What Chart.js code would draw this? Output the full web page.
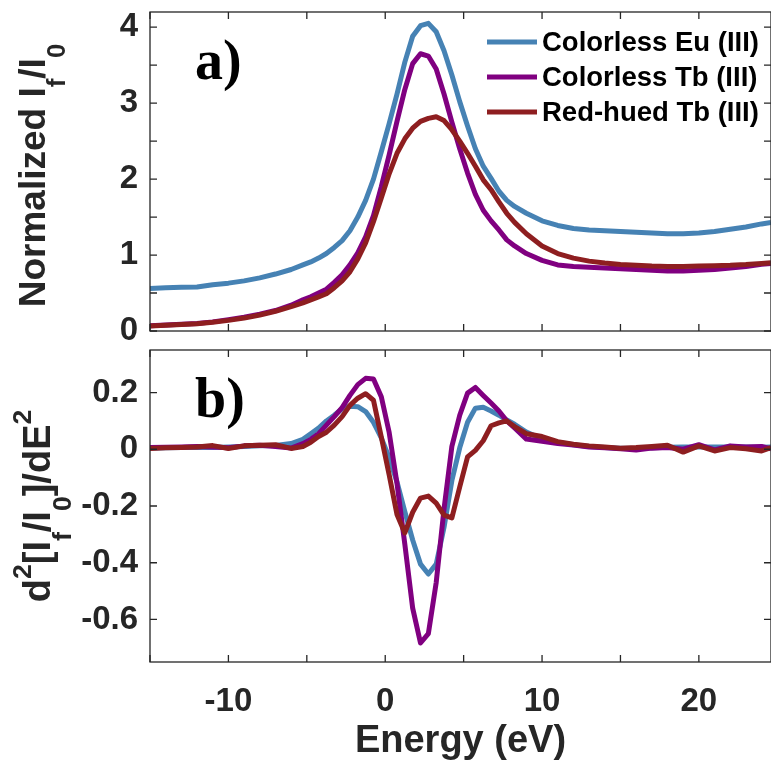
<!DOCTYPE html>
<html>
<head>
<meta charset="utf-8">
<script src="https://cdn.jsdelivr.net/npm/chart.js@4.4.0/dist/chart.umd.min.js"></script>
<style>
  html, body { margin: 0; padding: 0; background: #fff; }
  canvas { display: block; }
</style>
</head>
<body>
<canvas id="topChart" width="771" height="340"></canvas>
<canvas id="bottomChart" width="771" height="421"></canvas>
<script>
// energy grid (eV), shared by every series
const energy = [-15, -14, -13, -12, -11, -10, -9, -8, -7, -6,
  -5.25, -4.75, -4.25, -3.75, -3.25, -2.75, -2.25, -1.75, -1.25, -0.75, -0.25,
  0.25, 0.75, 1.25, 1.75, 2.25, 2.75, 3.25, 3.75, 4.25, 4.75, 5.25, 5.75,
  6.25, 6.75, 7.25, 7.75, 8.25, 9, 10, 11, 12, 13, 14, 15, 16, 17, 18, 19,
  20, 21, 22, 23, 24, 24.6];

const seriesNames = ['Colorless Eu (III)', 'Colorless Tb (III)', 'Red-hued Tb (III)'];

// panel a) normalized If/I0
const euTop = [0.56, 0.57, 0.575, 0.58, 0.61, 0.63, 0.66, 0.70, 0.75, 0.81,
  0.87, 0.91, 0.96, 1.02, 1.10, 1.19, 1.32, 1.50, 1.72, 2.00, 2.36,
  2.73, 3.12, 3.54, 3.88, 4.02, 4.05, 3.94, 3.69, 3.37, 3.02, 2.70, 2.40,
  2.17, 2.01, 1.84, 1.72, 1.64, 1.55, 1.45, 1.39, 1.35, 1.33, 1.32, 1.31, 1.30, 1.29, 1.28, 1.28,
  1.29, 1.31, 1.34, 1.37, 1.41, 1.43];
const tbTop = [0.07, 0.08, 0.09, 0.10, 0.12, 0.15, 0.18, 0.22, 0.27, 0.34,
  0.41, 0.45, 0.50, 0.55, 0.64, 0.74, 0.87, 1.03, 1.24, 1.52, 1.90,
  2.32, 2.76, 3.18, 3.52, 3.65, 3.62, 3.45, 3.12, 2.75, 2.40, 2.08, 1.80,
  1.59, 1.45, 1.33, 1.20, 1.12, 1.02, 0.93, 0.87, 0.85, 0.84, 0.83, 0.82, 0.81, 0.80, 0.79, 0.79,
  0.80, 0.81, 0.83, 0.85, 0.88, 0.89];
const redTop = [0.065, 0.075, 0.085, 0.095, 0.115, 0.14, 0.17, 0.21, 0.26, 0.32,
  0.37, 0.41, 0.45, 0.49, 0.57, 0.66, 0.78, 0.95, 1.16, 1.44, 1.75,
  2.07, 2.34, 2.53, 2.67, 2.76, 2.80, 2.82, 2.77, 2.65, 2.50, 2.34, 2.17,
  1.99, 1.86, 1.70, 1.55, 1.43, 1.28, 1.12, 1.02, 0.96, 0.92, 0.895, 0.875, 0.865, 0.855, 0.85, 0.85,
  0.855, 0.86, 0.865, 0.875, 0.89, 0.90];

// panel b) second derivative
const euBottom = [0.004, 0.005, 0.006, 0.007, 0.006, 0.008, 0.01, 0.012, 0.013, 0.02,
  0.035, 0.055, 0.075, 0.10, 0.12, 0.143, 0.152, 0.15, 0.133, 0.095, 0.04,
  -0.03, -0.115, -0.22, -0.32, -0.405, -0.44, -0.405, -0.275, -0.11, 0.005, 0.095, 0.145,
  0.148, 0.135, 0.12, 0.103, 0.088, 0.061, 0.036, 0.025, 0.016, 0.01, 0.006, 0.004, 0.003, 0.005, 0.007, 0.008,
  0.008, 0.008, 0.008, 0.008, 0.007, 0.008];
const tbBottom = [0.006, 0.007, 0.008, 0.01, 0.008, 0.005, 0.012, 0.014, 0.01, 0.004,
  0.02, 0.035, 0.055, 0.085, 0.115, 0.147, 0.19, 0.228, 0.25, 0.248, 0.185,
  0.06, -0.12, -0.335, -0.56, -0.683, -0.65, -0.47, -0.21, 0.01, 0.12, 0.198, 0.218,
  0.19, 0.163, 0.135, 0.10, 0.075, 0.036, 0.028, 0.02, 0.015, 0.008, 0.005, 0.002, -0.003, 0.004, 0.006, 0.0,
  0.016, -0.002, 0.012, 0.008, 0.01, 0.002];
const redBottom = [0.003, 0.005, 0.006, 0.008, 0.013, 0.003, 0.012, 0.014, 0.016, 0.003,
  0.01, 0.025, 0.045, 0.06, 0.085, 0.115, 0.155, 0.18, 0.196, 0.173, 0.043,
  -0.09, -0.23, -0.295, -0.222, -0.172, -0.165, -0.19, -0.232, -0.242, -0.133, -0.027, -0.004,
  0.03, 0.083, 0.093, 0.1, 0.08, 0.055, 0.045, 0.027, 0.018, 0.012, 0.008, 0.004, 0.006, 0.01, 0.014, -0.01,
  0.012, -0.006, 0.006, 0.002, -0.006, 0.006];

const colors = ['#4682B4', '#800080', '#8E1E20'];
const fontFamily = '"Liberation Sans", Arial, Helvetica, sans-serif';
const axisColor = '#262626';

function series(i, values) {
  return {
    label: seriesNames[i],
    data: energy.map((e, k) => ({ x: e, y: values[k] })),
    borderColor: colors[i],
    backgroundColor: colors[i],
    borderWidth: 5,
    pointRadius: 0,
    tension: 0,
    borderJoinStyle: 'round',
    order: 3 - i
  };
}

// box + inward ticks on all four sides, like the original figure
const frame = {
  id: 'frame',
  afterDraw(chart) {
    const { ctx, chartArea: a, scales: { x, y } } = chart;
    const tl = 7;
    ctx.save();
    ctx.strokeStyle = axisColor;
    ctx.lineWidth = 1.3;
    ctx.strokeRect(a.left, a.top, a.right - a.left, a.bottom - a.top);
    ctx.beginPath();
    x.ticks.forEach(t => {
      const px = x.getPixelForValue(t.value);
      ctx.moveTo(px, a.bottom); ctx.lineTo(px, a.bottom - tl);
      ctx.moveTo(px, a.top); ctx.lineTo(px, a.top + tl);
    });
    y.ticks.forEach(t => {
      const py = y.getPixelForValue(t.value);
      ctx.moveTo(a.left, py); ctx.lineTo(a.left + tl, py);
      ctx.moveTo(a.right, py); ctx.lineTo(a.right - tl, py);
    });
    ctx.stroke();
    ctx.restore();
  }
};

// y title with sub/superscripts, and the panel letter
const decor = {
  id: 'decor',
  afterDraw(chart, args, opts) {
    const { ctx, chartArea: a } = chart;
    const size = opts.size;
    const fontFor = k => 'bold ' + (k ? size * 0.7 : size) + 'px ' + fontFamily;
    ctx.save();
    ctx.translate(opts.baseX, (a.top + a.bottom) / 2 + opts.shift);
    ctx.rotate(-Math.PI / 2);
    ctx.fillStyle = axisColor;
    ctx.textBaseline = 'alphabetic';
    let total = 0;
    opts.parts.forEach(([t, k]) => { ctx.font = fontFor(k); total += ctx.measureText(t).width; });
    let px = -total / 2;
    opts.parts.forEach(([t, k]) => {
      ctx.font = fontFor(k);
      const dy = k < 0 ? size * 0.55 : (k > 0 ? -size * 0.5 : 0);
      ctx.fillText(t, px, dy);
      px += ctx.measureText(t).width;
    });
    ctx.restore();

    ctx.save();
    ctx.fillStyle = '#000';
    ctx.font = 'bold 56px "Liberation Serif", "Times New Roman", serif';
    ctx.textBaseline = 'alphabetic';
    ctx.fillText(opts.panel, a.left + 45, a.top + 67);
    ctx.restore();
  }
};

const legendBox = {
  id: 'legendBox',
  afterDraw(chart) {
    const { ctx, chartArea: a } = chart;
    ctx.save();
    ctx.font = 'bold 27.5px ' + fontFamily;
    ctx.textBaseline = 'middle';
    chart.data.datasets.forEach((d, i) => {
      const yy = a.top + 30 + i * 35;
      ctx.strokeStyle = d.borderColor;
      ctx.lineWidth = 5;
      ctx.beginPath();
      ctx.moveTo(a.left + 337, yy);
      ctx.lineTo(a.left + 387, yy);
      ctx.stroke();
      ctx.fillStyle = '#000';
      ctx.fillText(d.label, a.left + 392, yy + 1);
    });
    ctx.restore();
  }
};

const tickFont = { family: fontFamily, size: 33, weight: 'bold' };

// keep the plot box where the original has it: no label overhang padding
function fixY(s) { s.width = 150; s.paddingTop = 0; s.paddingBottom = 0; }

function baseX(showLabels, h) {
  return {
    type: 'linear', min: -15, max: 24.6,
    grid: { display: false, drawTicks: false },
    border: { display: false },
    ticks: {
      display: showLabels, stepSize: 5, includeBounds: false, autoSkip: false, maxRotation: 0,
      padding: 20, font: tickFont, color: axisColor,
      callback: v => (v % 10 === 0 ? String(v) : '')
    },
    afterFit: s => { s.height = h; s.paddingLeft = 0; s.paddingRight = 0; }
  };
}

new Chart(document.getElementById('topChart'), {
  type: 'line',
  data: { datasets: [series(0, euTop), series(1, tbTop), series(2, redTop)] },
  options: {
    responsive: false, animation: false, events: [],
    layout: { padding: { top: 12, right: 0, left: 0, bottom: 0 } },
    plugins: {
      legend: { display: false }, tooltip: { enabled: false },
      decor: { size: 37, baseX: 45, shift: 4, panel: 'a)',
        parts: [['Normalized I', 0], ['f', -1], ['/I', 0], ['0', -1]] }
    },
    scales: {
      x: baseX(false, 9),
      y: {
        min: 0, max: 4.2,
        grid: { display: false, drawTicks: false },
        border: { display: false },
        ticks: { stepSize: 0.5, includeBounds: false, autoSkip: false, padding: 12,
          font: tickFont, color: axisColor,
          callback: v => (Number.isInteger(v) ? String(v) : '') },
        afterFit: fixY
      }
    }
  },
  plugins: [frame, decor, legendBox]
});

const bottomX = baseX(true, 99);
bottomX.title = { display: true, text: 'Energy (eV)', color: axisColor,
  font: { family: fontFamily, size: 38, weight: 'bold' }, padding: { top: 0, bottom: -3 } };

new Chart(document.getElementById('bottomChart'), {
  type: 'line',
  data: { datasets: [series(0, euBottom), series(1, tbBottom), series(2, redBottom)] },
  options: {
    responsive: false, animation: false, events: [],
    layout: { padding: { top: 10, right: 0, left: 0, bottom: 0 } },
    plugins: {
      legend: { display: false }, tooltip: { enabled: false },
      decor: { size: 38, baseX: 50, shift: 0, panel: 'b)',
        parts: [['d', 0], ['2', 1], ['[I', 0], ['f', -1], ['/I', 0], ['0', -1], [']/dE', 0], ['2', 1]] }
    },
    scales: {
      x: bottomX,
      y: {
        min: -0.75, max: 0.35,
        grid: { display: false, drawTicks: false },
        border: { display: false },
        ticks: { stepSize: 0.2, includeBounds: false, autoSkip: false, padding: 12,
          font: tickFont, color: axisColor },
        afterFit: fixY
      }
    }
  },
  plugins: [frame, decor]
});
</script>
</body>
</html>
